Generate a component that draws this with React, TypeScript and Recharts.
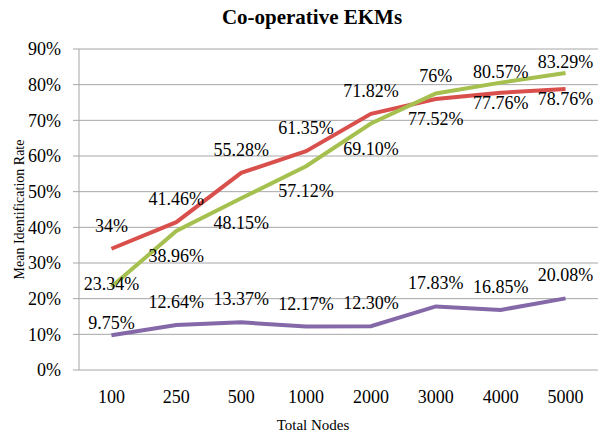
import React from 'react';
import { LineChart, Line, XAxis, YAxis, CartesianGrid, LabelList } from 'recharts';

const categories = ['100', '250', '500', '1000', '2000', '3000', '4000', '5000'];
const redValues = [34, 41.46, 55.28, 61.35, 71.82, 76, 77.76, 78.76];
const greenValues = [23.34, 38.96, 48.15, 57.12, 69.1, 77.52, 80.57, 83.29];
const purpleValues = [9.75, 12.64, 13.37, 12.17, 12.3, 17.83, 16.85, 20.08];
const redLabels = ['34%', '41.46%', '55.28%', '61.35%', '71.82%', '76%', '77.76%', '78.76%'];
const greenLabels = ['23.34%', '38.96%', '48.15%', '57.12%', '69.10%', '77.52%', '80.57%', '83.29%'];
const purpleLabels = ['9.75%', '12.64%', '13.37%', '12.17%', '12.30%', '17.83%', '16.85%', '20.08%'];
const yTicks = [0, 10, 20, 30, 40, 50, 60, 70, 80, 90];
const edgeTicks = [0, 1, 2, 3, 4, 5, 6, 7, 8];

const FONT = '"Liberation Serif", "Times New Roman", serif';
const GRID = '#a6a6a6';

const data = categories.map((name, i) => ({
  name,
  red: redValues[i],
  green: greenValues[i],
  purple: purpleValues[i],
}));

// label offsets (px from point), a few were nudged by hand in the original
const redDy = (i: number) => (i >= 6 ? 10 : -23);
const greenDy = (i: number) => (i === 0 ? -3 : i >= 6 ? -11 : 25);
const purpleDy = (i: number) => (i === 0 ? -12 : -23);

const makeLabel = (texts: string[], dyFn: (i: number) => number) => (props: any) => {
  const { x, y, index } = props;
  return (
    <text
      x={x}
      y={y + dyFn(index)}
      textAnchor="middle"
      dominantBaseline="central"
      fontSize={18}
      fontFamily={FONT}
      fill="#000"
    >
      {texts[index]}
    </text>
  );
};

const YLabel = (props: any) => {
  const { viewBox } = props;
  const cy = viewBox.y + viewBox.height / 2;
  return (
    <text
      x={19}
      y={cy}
      transform={`rotate(-90, 19, ${cy})`}
      textAnchor="middle"
      dominantBaseline="central"
      fontSize={14}
      fontFamily={FONT}
      fill="#000"
    >
      Mean Identification Rate
    </text>
  );
};

const App: React.FC = () => {
  return (
    <div style={{ position: 'absolute', left: 0, top: 0, width: 602, height: 435, background: '#fff' }}>
      <div
        style={{
          position: 'absolute',
          left: 0,
          width: 624,
          top: 6,
          textAlign: 'center',
          fontFamily: FONT,
          fontWeight: 'bold',
          fontSize: 21,
          lineHeight: '22px',
        }}
      >
        Co-operative EKMs
      </div>
      <LineChart width={602} height={435} data={data} margin={{ top: 49, right: 4, left: 0, bottom: 0 }}>
        <CartesianGrid vertical={false} stroke={GRID} />
        <XAxis
          xAxisId="edge"
          type="number"
          domain={[0, 8]}
          ticks={edgeTicks}
          allowDataOverflow
          height={0}
          tick={() => <g />}
          tickSize={5}
          stroke={GRID}
        />
        <XAxis
          xAxisId="cat"
          dataKey="name"
          scale="band"
          height={65}
          axisLine={false}
          tickLine={false}
          tickSize={0}
          tickMargin={20}
          tick={{ fontSize: 18, fontFamily: FONT, fill: '#000' }}
        />
        <YAxis
          domain={[0, 90]}
          ticks={yTicks}
          width={79}
          tickFormatter={(v) => `${v}%`}
          tickSize={6}
          tickMargin={12}
          stroke={GRID}
          tick={{ fontSize: 18, fontFamily: FONT, fill: '#000' }}
          label={<YLabel />}
        />
        <Line
          xAxisId="cat"
          type="linear"
          dataKey="red"
          stroke="#d94f4c"
          strokeWidth={4}
          dot={false}
          isAnimationActive={false}
        >
          <LabelList dataKey="red" content={makeLabel(redLabels, redDy)} />
        </Line>
        <Line
          xAxisId="cat"
          type="linear"
          dataKey="green"
          stroke="#a5c04f"
          strokeWidth={4}
          dot={false}
          isAnimationActive={false}
        >
          <LabelList dataKey="green" content={makeLabel(greenLabels, greenDy)} />
        </Line>
        <Line
          xAxisId="cat"
          type="linear"
          dataKey="purple"
          stroke="#8568a8"
          strokeWidth={4}
          dot={false}
          isAnimationActive={false}
        >
          <LabelList dataKey="purple" content={makeLabel(purpleLabels, purpleDy)} />
        </Line>
      </LineChart>
      <div
        style={{
          position: 'absolute',
          left: 0,
          width: 626,
          top: 417,
          textAlign: 'center',
          fontFamily: FONT,
          fontSize: 15,
          lineHeight: '17px',
        }}
      >
        Total Nodes
      </div>
    </div>
  );
};

export default App;
